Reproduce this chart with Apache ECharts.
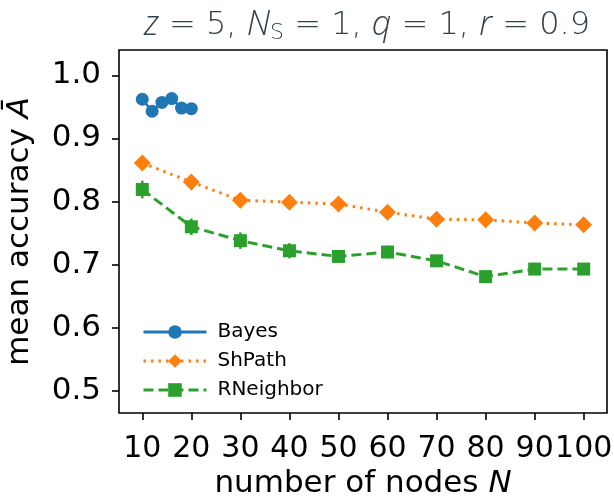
<!DOCTYPE html>
<html>
<head>
<meta charset="utf-8">
<script src="https://cdn.jsdelivr.net/npm/echarts@6/dist/echarts.min.js"></script>
<style>html,body{margin:0;padding:0;background:#fff}#c{width:614px;height:496px}</style>
</head>
<body>
<div id="c"></div>
<script>
var xTicks = [10, 20, 30, 40, 50, 60, 70, 80, 90, 100];
var yTicks = [0.5, 0.6, 0.7, 0.8, 0.9, 1.0];
var bayesN = [10, 12, 14, 16, 18, 20];
var bayesAcc = [0.962, 0.943, 0.957, 0.963, 0.948, 0.947];
var bayesErr = [0.006, 0.006, 0.006, 0.006, 0.006, 0.006];
var nodesN = [10, 20, 30, 40, 50, 60, 70, 80, 90, 100];
var shPathAcc = [0.861, 0.831, 0.802, 0.799, 0.796, 0.783, 0.772, 0.771, 0.766, 0.763];
var shPathErr = [0.008, 0.008, 0.008, 0.007, 0.007, 0.007, 0.007, 0.007, 0.007, 0.007];
var rNeighborAcc = [0.819, 0.760, 0.738, 0.722, 0.713, 0.720, 0.706, 0.681, 0.693, 0.693];
var rNeighborErr = [0.014, 0.013, 0.013, 0.012, 0.010, 0.010, 0.008, 0.009, 0.007, 0.007];

var C1 = '#1f77b4', C2 = '#ff7f0e', C3 = '#2ca02c';

function pairs(xs, ys) { return xs.map(function (x, i) { return [x, ys[i]]; }); }
function errData(xs, ys, es) { return xs.map(function (x, i) { return [x, ys[i] - es[i], ys[i] + es[i]]; }); }
function errSeries(name, xs, ys, es, color) {
  return {
    type: 'custom', name: name + '_err', silent: true, z: 1,
    data: errData(xs, ys, es),
    renderItem: function (params, api) {
      var p1 = api.coord([api.value(0), api.value(1)]);
      var p2 = api.coord([api.value(0), api.value(2)]);
      return { type: 'line', shape: { x1: p1[0], y1: p1[1], x2: p2[0], y2: p2[1] },
        style: { stroke: color, lineWidth: 2.5 } };
    }
  };
}

var chart = echarts.init(document.getElementById('c'), null, { renderer: 'canvas' });
var font = 'DejaVu Sans';
var tcol = '#33424c';
var FS = 31;
chart.setOption({
  animation: false,
  backgroundColor: '#fff',
  title: {
    text: '{i|z} = 5, {i|N}{s|S} = 1, {i|q} = 1, {i|r} = 0.9',
    left: 362, top: 2, textAlign: 'center',
    textStyle: {
      fontFamily: font, fontSize: 32, fontWeight: 200, color: tcol,
      rich: {
        i: { fontFamily: 'Open Sans', fontStyle: 'italic', fontWeight: 300, fontSize: 34, color: tcol },
        s: { fontFamily: font, fontWeight: 200, fontSize: 22, color: tcol, padding: [15, 0, 0, 0] }
      }
    }
  },
  grid: { left: 119, right: 7, top: 50, bottom: 83, show: true, borderColor: '#000', borderWidth: 1.6,
    containLabel: false, outerBoundsMode: 'none' },
  xAxis: {
    type: 'value', min: 5.25, max: 104.75,
    name: 'number of nodes {i|N}', nameLocation: 'middle', nameGap: 47,
    nameTextStyle: { fontFamily: font, fontSize: FS, color: '#000',
      rich: { i: { fontFamily: font, fontStyle: 'italic', fontSize: FS, color: '#000' } } },
    axisLine: { show: false },
    splitLine: { show: false },
    axisTick: { show: true, length: 7, lineStyle: { color: '#000', width: 1.6 }, customValues: xTicks },
    axisLabel: { customValues: xTicks, margin: 21, fontFamily: font, fontSize: 30, color: '#000',
      hideOverlap: false, showMinLabel: true, showMaxLabel: true,
      formatter: function (v) { return String(v); } }
  },
  yAxis: {
    type: 'value', min: 0.465, max: 1.04,
    name: 'mean accuracy {i|\u0100}', nameLocation: 'middle', nameGap: 84, nameRotate: 90,
    nameTextStyle: { fontFamily: font, fontSize: FS, color: '#000',
      rich: { i: { fontFamily: font, fontStyle: 'italic', fontSize: FS, color: '#000' } } },
    axisLine: { show: false },
    splitLine: { show: false },
    axisTick: { show: true, length: 7, lineStyle: { color: '#000', width: 1.6 }, customValues: yTicks },
    axisLabel: { customValues: yTicks, margin: 18, fontFamily: font, fontSize: FS, color: '#000',
      hideOverlap: false, showMinLabel: true, showMaxLabel: true,
      formatter: function (v) { return v.toFixed(1); } }
  },
  legend: {
    orient: 'vertical', left: 137, top: 317, itemWidth: 63, itemHeight: 17, itemGap: 9,
    data: ['Bayes', 'ShPath', 'RNeighbor'],
    lineStyle: { width: 3 },
    textStyle: { fontFamily: font, fontSize: 20, color: '#000', lineHeight: 20, padding: [0, 0, 0, 6] }
  },
  series: [
    errSeries('Bayes', bayesN, bayesAcc, bayesErr, C1),
    errSeries('ShPath', nodesN, shPathAcc, shPathErr, C2),
    errSeries('RNeighbor', nodesN, rNeighborAcc, rNeighborErr, C3),
    { type: 'line', name: 'Bayes', data: pairs(bayesN, bayesAcc), z: 3,
      symbol: 'circle', symbolSize: 13, color: C1,
      lineStyle: { color: C1, width: 2.5, type: 'solid' }, itemStyle: { color: C1 } },
    { type: 'line', name: 'ShPath', data: pairs(nodesN, shPathAcc), z: 3,
      symbol: 'diamond', symbolSize: 17, color: C2,
      lineStyle: { color: C2, width: 3, type: [2.5, 5], cap: 'butt' }, itemStyle: { color: C2 } },
    { type: 'line', name: 'RNeighbor', data: pairs(nodesN, rNeighborAcc), z: 3,
      symbol: 'rect', symbolSize: 13, color: C3,
      lineStyle: { color: C3, width: 3, type: [10, 5] }, itemStyle: { color: C3 } }
  ]
});
</script>
</body>
</html>
